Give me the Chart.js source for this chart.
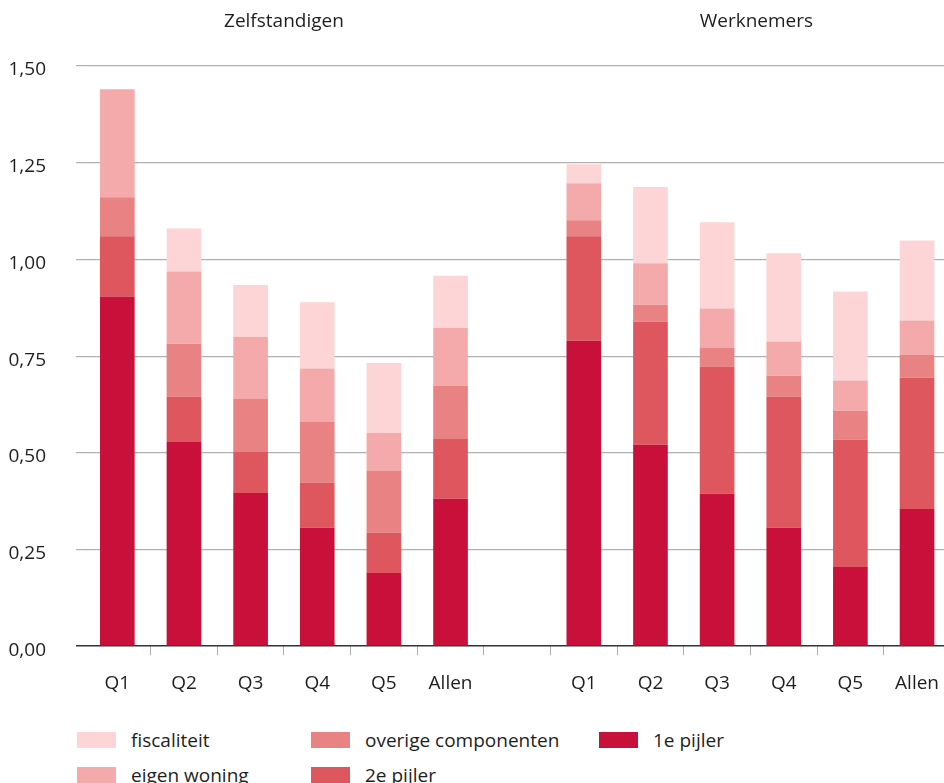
<!DOCTYPE html>
<html>
<head>
<meta charset="utf-8">
<script src="https://cdn.jsdelivr.net/npm/chart.js@4/dist/chart.umd.min.js"></script>
<style>
  html, body { margin: 0; padding: 0; background: #fff; }
  #wrap { position: relative; width: 944px; height: 783px; overflow: hidden; }
  #chart { position: absolute; left: 0; top: 0; }
  #legend {
    position: absolute; left: 77px; top: 722px;
    display: grid; grid-template-rows: 35px 35px; grid-auto-flow: column;
    grid-template-columns: 234px 288px auto;
    font-family: 'Open Sans', sans-serif; font-size: 19px; color: #1e1e1e;
  }
  .item { display: flex; align-items: center; }
  .box { width: 39px; height: 16px; margin-right: 15px; }
</style>
</head>
<body>
<div id="wrap">
  <canvas id="chart" width="956" height="718"></canvas>
  <div id="legend"></div>
</div>
<script>
// categorieën: Zelfstandigen (6), lege kolom, Werknemers (6)
const categories = ['Q1', 'Q2', 'Q3', 'Q4', 'Q5', 'Allen', '', 'Q1', 'Q2', 'Q3', 'Q4', 'Q5', 'Allen'];
const groupTitles = ['Zelfstandigen', 'Werknemers'];
const yTicks = [0, 0.25, 0.5, 0.75, 1.0, 1.25, 1.5];

const eerstePijler  = [0.904, 0.528, 0.396, 0.306, 0.189, 0.381, null, 0.790, 0.521, 0.394, 0.306, 0.205, 0.355];
const tweedePijler  = [0.156, 0.117, 0.106, 0.117, 0.104, 0.155, null, 0.270, 0.318, 0.329, 0.339, 0.329, 0.339];
const overige       = [0.101, 0.137, 0.137, 0.158, 0.160, 0.137, null, 0.041, 0.044, 0.049, 0.054, 0.075, 0.060];
const eigenWoning   = [0.279, 0.187, 0.161, 0.137, 0.098, 0.150, null, 0.096, 0.107, 0.101, 0.089, 0.078, 0.088];
const fiscaliteit   = [0.000, 0.111, 0.134, 0.171, 0.181, 0.135, null, 0.049, 0.197, 0.223, 0.228, 0.230, 0.207];

const SERIES = [
  { label: '1e pijler', data: eerstePijler, color: '#C8103A' },
  { label: '2e pijler', data: tweedePijler, color: '#DE565E' },
  { label: 'overige componenten', data: overige, color: '#E98282' },
  { label: 'eigen woning', data: eigenWoning, color: '#F4AAAA' },
  { label: 'fiscaliteit', data: fiscaliteit, color: '#FDD5D6' }
];

const FONT = { family: 'Open Sans', size: 19 };
const TEXT = '#1e1e1e';

// groepstitels boven de staven
const groupTitlePlugin = {
  id: 'groupTitles',
  afterDraw(chart) {
    const x = chart.scales.x;
    const c = chart.ctx;
    c.save();
    c.font = `${FONT.size}px ${FONT.family}`;
    c.fillStyle = TEXT;
    c.textAlign = 'center';
    c.textBaseline = 'middle';
    const mid1 = (x.getPixelForValue(0) + x.getPixelForValue(5)) / 2;
    const mid2 = (x.getPixelForValue(7) + x.getPixelForValue(12)) / 2;
    c.fillText(groupTitles[0], mid1, 22);
    c.fillText(groupTitles[1], mid2 + 6, 22);
    c.restore();
  }
};

new Chart(document.getElementById('chart'), {
  type: 'bar',
  data: {
    labels: categories,
    datasets: SERIES.map(s => ({
      label: s.label,
      data: s.data,
      backgroundColor: s.color,
      borderWidth: 0,
      barPercentage: 0.52,
      categoryPercentage: 1
    }))
  },
  options: {
    responsive: false,
    animation: false,
    layout: { padding: { top: 66, left: 8, right: 0, bottom: 6 } },
    plugins: {
      legend: { display: false },
      tooltip: { enabled: false }
    },
    scales: {
      x: {
        stacked: true,
        border: { display: false },
        grid: {
          drawOnChartArea: false,
          drawTicks: true,
          tickLength: 9,
          color: (ctx) => (ctx.type !== 'tick' || ctx.index === 0) ? 'rgba(0,0,0,0)' : '#b0b0b0'
        },
        ticks: { color: TEXT, font: FONT, padding: 17, maxRotation: 0, autoSkip: false }
      },
      y: {
        stacked: true,
        min: 0,
        max: 1.5,
        afterFit: (scale) => { scale.width = 76; },
        afterBuildTicks: (scale) => { scale.ticks = yTicks.map(v => ({ value: v })); },
        border: { display: false },
        grid: {
          tickLength: 8,
          color: (ctx) => ctx.tick && ctx.tick.value === 0 ? '#333333' : '#b0b0b0',
          lineWidth: (ctx) => ctx.tick && ctx.tick.value === 0 ? 1.5 : 1.2
        },
        ticks: {
          color: TEXT,
          font: FONT,
          padding: 30,
          labelOffset: 4,
          callback: (v) => v.toFixed(2).replace('.', ',')
        }
      }
    }
  },
  plugins: [groupTitlePlugin]
});

// legenda in kolommen, volgorde van boven naar beneden in de stapel
const legendEl = document.getElementById('legend');
SERIES.slice().reverse().forEach(s => {
  const item = document.createElement('div');
  item.className = 'item';
  item.innerHTML = `<span class="box" style="background:${s.color}"></span><span>${s.label}</span>`;
  legendEl.appendChild(item);
});
</script>
</body>
</html>
